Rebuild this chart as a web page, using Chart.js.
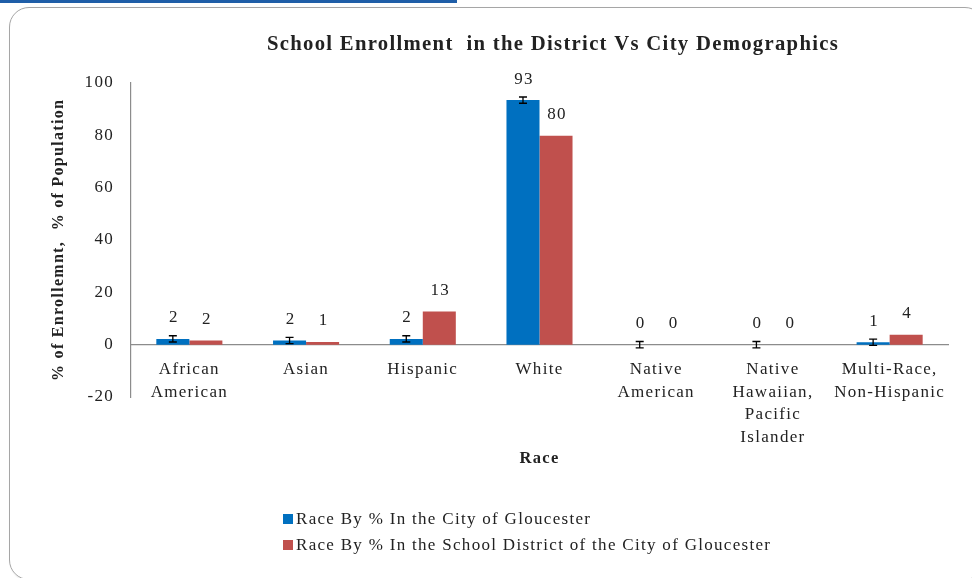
<!DOCTYPE html>
<html>
<head>
<meta charset="utf-8">
<script src="https://cdn.jsdelivr.net/npm/chart.js@4"></script>
<style>
  html, body { margin: 0; padding: 0; background: #fff; }
  #wrap { position: relative; width: 972px; height: 578px; overflow: hidden; }
  #strip { position: absolute; left: 0; top: 0; width: 457px; height: 3px; background: #1f5ea8; }
  #frame { position: absolute; left: 9px; top: 7px; width: 976px; height: 573px; border: 1.5px solid #a6a6a6; border-radius: 20px; box-sizing: border-box; box-shadow: 1px 1px 2px rgba(0,0,0,0.12); }
  canvas { position: absolute; left: 0; top: 0; }
  .leg { position: absolute; left: 283px; font: 17px "Liberation Serif", serif; letter-spacing: 1.3px; color: #222; white-space: nowrap; }
  .leg span { display: inline-block; width: 10px; height: 10px; margin-right: 3px; vertical-align: 0px; }
</style>
</head>
<body>
<div id="wrap">
  <div id="strip"></div>
  <div id="frame"></div>
  <canvas id="c" width="972" height="578"></canvas>
  <div class="leg" style="top:509px"><span style="background:#0070c0"></span>Race By % In the City of Gloucester</div>
  <div class="leg" style="top:535px"><span style="background:#c0504d"></span>Race By % In the School District of the City of Gloucester</div>
</div>
<script>
const categories = [
  ["African", "American"],
  ["Asian"],
  ["Hispanic"],
  ["White"],
  ["Native", "American"],
  ["Native", "Hawaiian,", "Pacific", "Islander"],
  ["Multi-Race,", "Non-Hispanic"]
];
const cityValues = [2.2, 1.6, 2.2, 93.4, 0, 0, 0.9];
const cityErrors = [1.2, 1.2, 1.2, 1.2, 1.2, 1.2, 1.2];
const districtValues = [1.6, 1.0, 12.7, 79.8, 0, 0, 3.8];
const seriesNames = [
  "Race By % In the City of Gloucester",
  "Race By % In the School District of the City of Gloucester"
];
const yTicks = [-20, 0, 20, 40, 60, 80, 100];

const SERIF = '"Liberation Serif", "Times New Roman", serif';
const SPACING = '1.3px';

const spacing = {
  id: 'spacing',
  beforeUpdate(chart) { chart.ctx.letterSpacing = SPACING; },
  beforeDraw(chart) { chart.ctx.letterSpacing = SPACING; },
  afterLayout(chart) {
    // centre the title over the plot area, as in the reference
    if (chart.titleBlock) { chart.titleBlock.left = 156; chart.titleBlock.right = 950; }
  }
};

const errorBars = {
  id: 'errorBars',
  afterDatasetsDraw(chart) {
    const ctx = chart.ctx;
    const y = chart.scales.y;
    const meta = chart.getDatasetMeta(0);
    ctx.save();
    ctx.strokeStyle = '#000';
    ctx.lineWidth = 1.3;
    meta.data.forEach((bar, i) => {
      const v = cityValues[i], e = cityErrors[i];
      const yt = y.getPixelForValue(v + e), yb = y.getPixelForValue(v - e);
      ctx.beginPath();
      ctx.moveTo(bar.x, yt); ctx.lineTo(bar.x, yb);
      ctx.moveTo(bar.x - 4, yt); ctx.lineTo(bar.x + 4, yt);
      ctx.moveTo(bar.x - 4, yb); ctx.lineTo(bar.x + 4, yb);
      ctx.stroke();
    });
    ctx.restore();
  }
};

const valueLabels = {
  id: 'valueLabels',
  afterDatasetsDraw(chart) {
    const ctx = chart.ctx;
    const y = chart.scales.y;
    ctx.save();
    ctx.font = '17px ' + SERIF;
    ctx.letterSpacing = SPACING;
    ctx.fillStyle = '#222';
    ctx.textAlign = 'center';
    ctx.textBaseline = 'middle';
    chart.data.datasets.forEach((ds, di) => {
      chart.getDatasetMeta(di).data.forEach((bar, i) => {
        const v = ds.data[i];
        const py = y.getPixelForValue(Math.max(v, 0)) - 21;
        ctx.fillText(String(Math.round(v)), bar.x + 1, py);
      });
    });
    ctx.restore();
  }
};

new Chart(document.getElementById('c'), {
  type: 'bar',
  data: {
    labels: categories,
    datasets: [
      { label: seriesNames[0], data: cityValues, backgroundColor: '#0070c0', categoryPercentage: 0.566, barPercentage: 1.0 },
      { label: seriesNames[1], data: districtValues, backgroundColor: '#c0504d', categoryPercentage: 0.566, barPercentage: 1.0 }
    ]
  },
  options: {
    responsive: false,
    animation: false,
    layout: { padding: { left: 40, top: 30, right: 24, bottom: 181 } },
    plugins: {
      legend: { display: false },
      tooltip: { enabled: false },
      title: {
        display: true,
        text: 'School Enrollment  in the District Vs City Demographics',
        font: { family: SERIF, size: 20.7, weight: 'bold' },
        color: '#222',
        padding: { top: 2, bottom: 26 }
      }
    },
    scales: {
      x: {
        position: { y: 0 },
        offset: true,
        grid: { display: false, drawTicks: false },
        border: { display: true, color: '#8c8c8c', width: 1.2 },
        ticks: { font: { family: SERIF, size: 17, lineHeight: 1.35 }, color: '#222', padding: 13, maxRotation: 0, autoSkip: false },
        title: { display: true, text: 'Race', font: { family: SERIF, size: 16.5, weight: 'bold' }, color: '#222', padding: { top: -14, bottom: 0 } }
      },
      y: {
        min: -20, max: 100,
        afterBuildTicks(scale) { scale.ticks = yTicks.map(v => ({ value: v })); },
        afterFit(scale) { scale.width = 91; },
        grid: { display: false, drawTicks: false },
        border: { display: true, color: '#8c8c8c', width: 1.2 },
        ticks: { font: { family: SERIF, size: 17 }, color: '#222', padding: 17 },
        title: { display: true, text: '% of Enrollemnt,  % of Population', font: { family: SERIF, size: 16, weight: 'bold' }, color: '#222', padding: { top: 9, bottom: 0 } }
      }
    }
  },
  plugins: [spacing, errorBars, valueLabels]
});
</script>
</body>
</html>
